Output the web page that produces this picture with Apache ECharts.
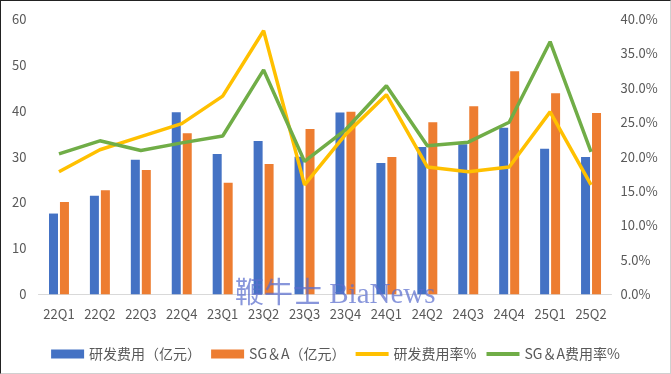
<!DOCTYPE html>
<html><head><meta charset="utf-8">
<script src="https://cdn.jsdelivr.net/npm/echarts@6/dist/echarts.min.js"></script>
<style>
html,body{margin:0;padding:0;background:#fff;}
#c{width:669px;height:372px;border-top:1px solid #222;border-left:1px solid #222;border-right:1px solid #d0d0d0;border-bottom:1px solid #d0d0d0;}
</style></head>
<body><div id="c"></div>
<script>
const categories = ['22Q1','22Q2','22Q3','22Q4','23Q1','23Q2','23Q3','23Q4','24Q1','24Q2','24Q3','24Q4','25Q1','25Q2'];
const rdExpense = [17.6, 21.5, 29.3, 39.7, 30.6, 33.4, 30.0, 39.6, 28.6, 32.1, 32.7, 36.3, 31.7, 29.9];
const sgaExpense = [20.1, 22.7, 27.1, 35.1, 24.3, 28.4, 36.0, 39.8, 29.9, 37.5, 41.0, 48.6, 43.8, 39.5];
const rdRate = [17.8, 21.0, 22.9, 24.8, 28.8, 38.3, 15.9, 23.2, 29.0, 18.5, 17.8, 18.5, 26.5, 15.9];
const sgaRate = [20.4, 22.3, 20.9, 22.0, 23.0, 32.6, 19.3, 23.9, 30.3, 21.6, 22.1, 25.0, 36.7, 20.7];
const seriesNames = ['研发费用（亿元）','SG＆A（亿元）','研发费用率%','SG＆A费用率%'];

const font = '"Noto Sans CJK SC", "Noto Sans", sans-serif';
const lineIcon = 'path://M0,0L33,0L33,4L0,4Z';
const chart = echarts.init(document.getElementById('c'));
chart.setOption({
  animation: false,
  textStyle: {fontFamily: font},
  grid: {left: 37.5, right: 58.5, top: 18, bottom: 78.7, containLabel: false},
  legend: {
    data: [
      {name: seriesNames[0], icon: 'rect'},
      {name: seriesNames[1], icon: 'rect'},
      {name: seriesNames[2], icon: lineIcon},
      {name: seriesNames[3], icon: lineIcon}
    ],
    left: 'center', top: 341, symbolKeepAspect: true,
    itemWidth: 33, itemHeight: 9, itemGap: 10,
    textStyle: {fontSize: 14, color: '#595959', fontFamily: font}
  },
  xAxis: {
    type: 'category', data: categories,
    axisLine: {lineStyle: {color: '#d9d9d9', width: 1}},
    axisTick: {show: false},
    axisLabel: {color: '#595959', fontSize: 13, margin: 13, interval: 0}
  },
  yAxis: [
    {type: 'value', min: 0, max: 60, interval: 10,
     axisLine: {show: false}, axisTick: {show: false}, splitLine: {show: false},
     axisLabel: {color: '#595959', fontSize: 13, margin: 12}},
    {type: 'value', min: 0, max: 40, interval: 5,
     axisLine: {show: false}, axisTick: {show: false}, splitLine: {show: false},
     axisLabel: {color: '#595959', fontSize: 13, margin: 9, formatter: v => v.toFixed(1) + '%'}}
  ],
  series: [
    {name: seriesNames[0], type: 'bar', data: rdExpense, barWidth: 9, barGap: '22%', itemStyle: {color: '#4472C4'}},
    {name: seriesNames[1], type: 'bar', data: sgaExpense, barWidth: 9, barGap: '22%', itemStyle: {color: '#ED7D31'}},
    {name: seriesNames[2], type: 'line', yAxisIndex: 1, data: rdRate, symbol: 'none', z: 3,
     lineStyle: {color: '#FFC000', width: 3.5}, itemStyle: {color: '#FFC000'}},
    {name: seriesNames[3], type: 'line', yAxisIndex: 1, data: sgaRate, symbol: 'none', z: 4,
     lineStyle: {color: '#70AD47', width: 3.5}, itemStyle: {color: '#70AD47'}}
  ],
  graphic: [{
    type: 'text', left: 234, top: 280, z: 100,
    style: {text: '鞭牛士 BiaNews', fill: 'rgba(90,110,205,0.72)', font: '29px "Liberation Serif", "DejaVu Serif", "Noto Sans CJK SC", serif'}
  }]
});
</script></body></html>
